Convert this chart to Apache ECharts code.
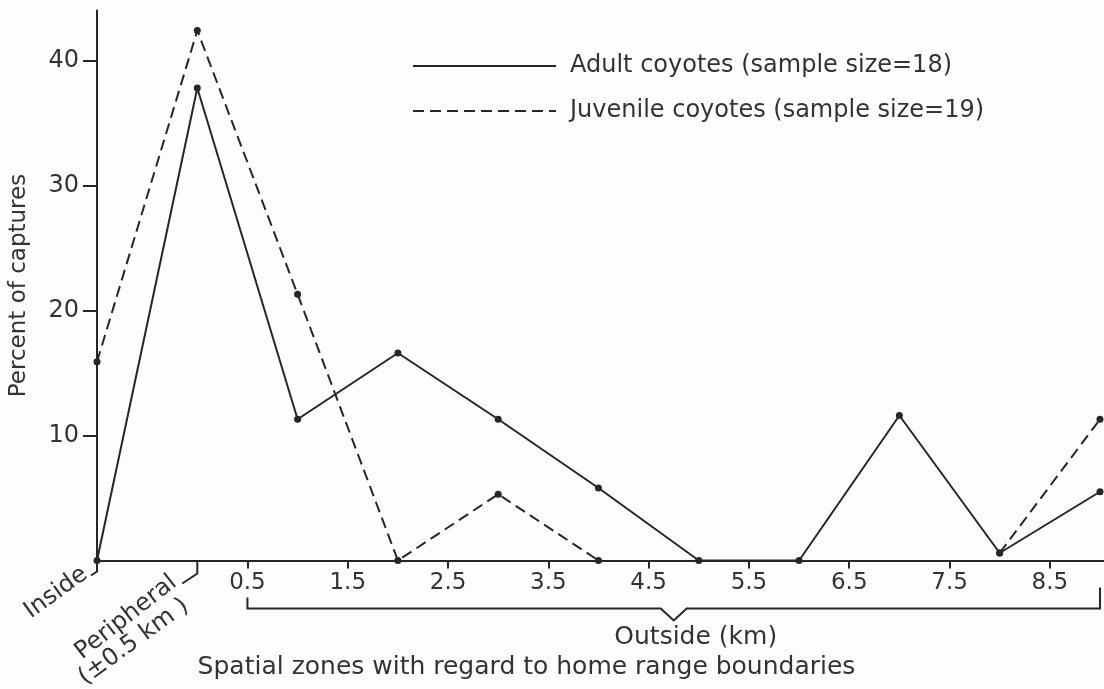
<!DOCTYPE html>
<html>
<head>
<meta charset="utf-8">
<title>Coyote captures by spatial zone</title>
<script src="https://cdn.jsdelivr.net/npm/echarts@6/dist/echarts.min.js"></script>
<style>
  html, body { margin: 0; padding: 0; background: #fdfdfd; }
  #main { width: 1104px; height: 689px; }
</style>
</head>
<body>
<div id="main"></div>
<script>
// x position of each zone: -1 = inside, 0 = peripheral, 1..9 = km outside
const zones = [-1, 0, 1, 2, 3, 4, 5, 6, 7, 8, 9];
const adult = [0, 37.8, 11.3, 16.6, 11.3, 5.8, 0, 0, 11.6, 0.6, 5.5];
const juvenile = [15.9, 42.4, 21.3, 0, 5.3, 0, null, null, null, 0.6, 11.3];
const kmTicks = [0.5, 1.5, 2.5, 3.5, 4.5, 5.5, 6.5, 7.5, 8.5];
const percentTicks = [10, 20, 30, 40];

const ink = "#262626";
const textColor = "#333";
const font = "DejaVu Sans";

const pairs = (ys) => zones.map((x, i) => [x, ys[i]]);

const chart = echarts.init(document.getElementById("main"));

chart.setOption({
	backgroundColor: "#fdfdfd",
	animation: false,
	textStyle: { fontFamily: font, color: textColor },
	grid: { left: 96, right: 0, top: 10.5, bottom: 128.5 },
	legend: {
		orient: "vertical",
		left: 407,
		top: 49,
		itemWidth: 143,
		itemHeight: 26,
		itemGap: 21,
		itemStyle: { opacity: 0 },
		textStyle: { fontSize: 24, color: textColor, padding: [0, 0, 0, 9] },
		data: ["Adult coyotes (sample size=18)", "Juvenile coyotes (sample size=19)"],
	},
	xAxis: {
		type: "value",
		min: -1,
		max: 9.04,
		name: "Spatial zones with regard to home range boundaries",
		nameLocation: "middle",
		nameGap: 94,
		nameTextStyle: { fontSize: 25, color: textColor, padding: [0, 148, 0, 0] },
		splitLine: { show: false },
		axisLine: { lineStyle: { color: ink, width: 2 } },
		axisTick: { customValues: kmTicks, length: 8, lineStyle: { color: ink, width: 2 } },
		axisLabel: { customValues: kmTicks, margin: 11, fontSize: 23, color: textColor },
	},
	yAxis: {
		type: "value",
		min: 0,
		max: 44,
		interval: 10,
		name: "Percent of captures",
		nameLocation: "middle",
		nameRotate: 90,
		nameGap: 66,
		nameTextStyle: { fontSize: 23, color: textColor },
		splitLine: { show: false },
		axisLine: { show: true, onZero: false, lineStyle: { color: ink, width: 2 } },
		axisTick: { show: true, customValues: percentTicks, length: 14, lineStyle: { color: ink, width: 2 } },
		axisLabel: { customValues: percentTicks, margin: 18, fontSize: 24, color: textColor },
	},
	series: [
		{
			name: "Adult coyotes (sample size=18)",
			type: "line",
			data: pairs(adult),
			symbol: "circle",
			symbolSize: 7,
			itemStyle: { color: ink },
			lineStyle: { color: ink, width: 2 },
		},
		{
			name: "Juvenile coyotes (sample size=19)",
			type: "line",
			data: pairs(juvenile),
			symbol: "circle",
			symbolSize: 7,
			itemStyle: { color: ink },
			lineStyle: { color: ink, width: 2, type: [11, 6] },
		},
	],
});

// zone brackets and labels under the axis, placed from the axis scale
const px = (x, y) => chart.convertToPixel({ xAxisIndex: 0, yAxisIndex: 0 }, [x, y]);
const [xIn, y0] = px(zones[0], 0);
const xPer = px(zones[1], 0)[0];
const xStart = px(kmTicks[0], 0)[0];
const xEnd = px(zones[zones.length - 1], 0)[0];
const xMid = (xStart + xEnd) / 2;
const deg = Math.PI / 180;
const lineStyle = { stroke: ink, lineWidth: 2, fill: null };
const labelStyle = (text) => ({ text, font: "24px '" + font + "'", fill: textColor, align: "right", verticalAlign: "bottom" });

chart.setOption({
	graphic: [
		{ type: "polyline", shape: { points: [[xIn, y0], [xIn, y0 + 11], [xIn - 6, y0 + 15]] }, style: lineStyle },
		{ type: "polyline", shape: { points: [[xPer, y0], [xPer, y0 + 13], [xPer - 15, y0 + 23]] }, style: lineStyle },
		{
			type: "polyline",
			shape: {
				points: [
					[xStart, y0 + 37], [xStart, y0 + 48], [xMid - 13, y0 + 48], [xMid, y0 + 60],
					[xMid + 13, y0 + 48], [xEnd, y0 + 48], [xEnd, y0 + 27],
				],
			},
			style: lineStyle,
		},
		{
			type: "text",
			x: xMid + 22,
			y: y0 + 77,
			style: { text: "Outside (km)", font: "25px '" + font + "'", fill: textColor, align: "center", verticalAlign: "middle" },
		},
		{ type: "text", x: xIn - 5, y: y0 + 21, rotation: 36 * deg, style: labelStyle("Inside") },
		{ type: "text", x: xPer - 16, y: y0 + 29, rotation: 38 * deg, style: labelStyle("Peripheral") },
		{ type: "text", x: xPer - 4, y: y0 + 53, rotation: 36 * deg, style: labelStyle("(±0.5 km )") },
	],
});
</script>
</body>
</html>
